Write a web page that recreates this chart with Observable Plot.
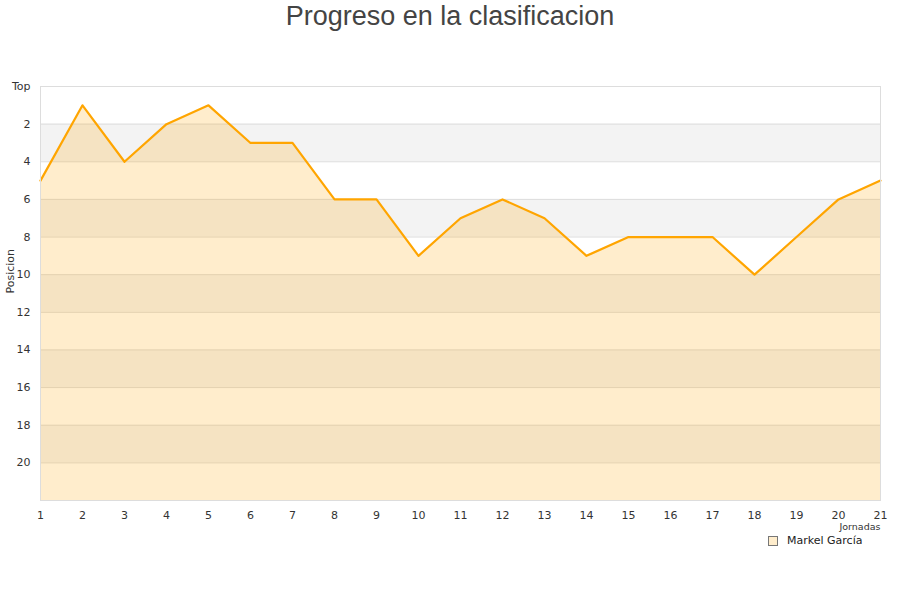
<!DOCTYPE html>
<html><head><meta charset="utf-8">
<script src="https://cdn.jsdelivr.net/npm/d3@7"></script>
<script src="https://cdn.jsdelivr.net/npm/@observablehq/plot@0.6"></script>
<style>
body{margin:0;background:#fff;font-family:"DejaVu Sans",sans-serif;}
#wrap{position:relative;width:900px;height:600px;}
#title{position:absolute;left:0;top:0;width:900px;text-align:center;font-family:"Liberation Sans",Arial,sans-serif;font-size:27px;color:#444;line-height:32px;}
#chart{position:absolute;left:0;top:40px;}
#legend{position:absolute;left:768px;top:534px;font-size:11px;line-height:13px;color:#222;display:flex;align-items:center;}
#legend .sw{width:8px;height:8px;border:1px solid #777;background:#ffedcc;margin-right:9px;}
</style></head><body>
<div id="wrap"><div id="title">Progreso en la clasificacion</div><div id="chart"></div>
<div id="legend"><span class="sw"></span>Markel García</div></div>
<script>
const jornadas = [1,2,3,4,5,6,7,8,9,10,11,12,13,14,15,16,17,18,19,20,21];
const posiciones = [5,1,4,2,1,3,3,6,6,9,7,6,7,9,8,8,8,10,8,6,5];
const yTicks = [0,2,4,6,8,10,12,14,16,18,20];
const yTickLabels = ["Top","2","4","6","8","10","12","14","16","18","20"];
const bandStarts = [2,6,10,14,18];
const data = jornadas.map((j,i)=>({j, p: posiciones[i]}));
const plot = Plot.plot({
  width: 900, height: 520,
  marginLeft: 40, marginRight: 20, marginTop: 46, marginBottom: 60,
  style: {fontFamily: "DejaVu Sans, sans-serif", fontSize: "11px", color: "#333", overflow: "visible"},
  x: {domain: [1,21], label: null},
  y: {domain: [0,22], reverse: true, label: null},
  marks: [
    Plot.rect(bandStarts, {x1: 1, x2: 21, y1: d=>d, y2: d=>d+2, fill: "#f3f3f3"}),
    Plot.gridY(yTicks.slice(1), {stroke: "#ddd", strokeOpacity: 1}),
    Plot.areaY(data, {x: "j", y1: 22, y2: "p", fill: "#ffa500", fillOpacity: 0.2}),
    Plot.line(data, {x: "j", y: "p", stroke: "#ffa500", strokeWidth: 2.2}),
    Plot.frame({stroke: "#ddd"}),
    Plot.axisX({ticks: jornadas, tickSize: 0, tickPadding: 11, label: null, fill: "#333"}),
    Plot.axisY({ticks: yTicks, tickFormat: d=>yTickLabels[yTicks.indexOf(d)], tickSize: 0, tickPadding: 10, label: null, fill: "#333"}),
    Plot.text(["Posicion"], {frameAnchor: "left", dx: -30, rotate: -90, fontSize: 11, fill: "#333"}),
    Plot.text(["Jornadas"], {x: 21, y: 22, dy: 26, textAnchor: "end", fontSize: 9.5, fill: "#333"})
  ]
});
document.getElementById("chart").appendChild(plot);
</script></body></html>
